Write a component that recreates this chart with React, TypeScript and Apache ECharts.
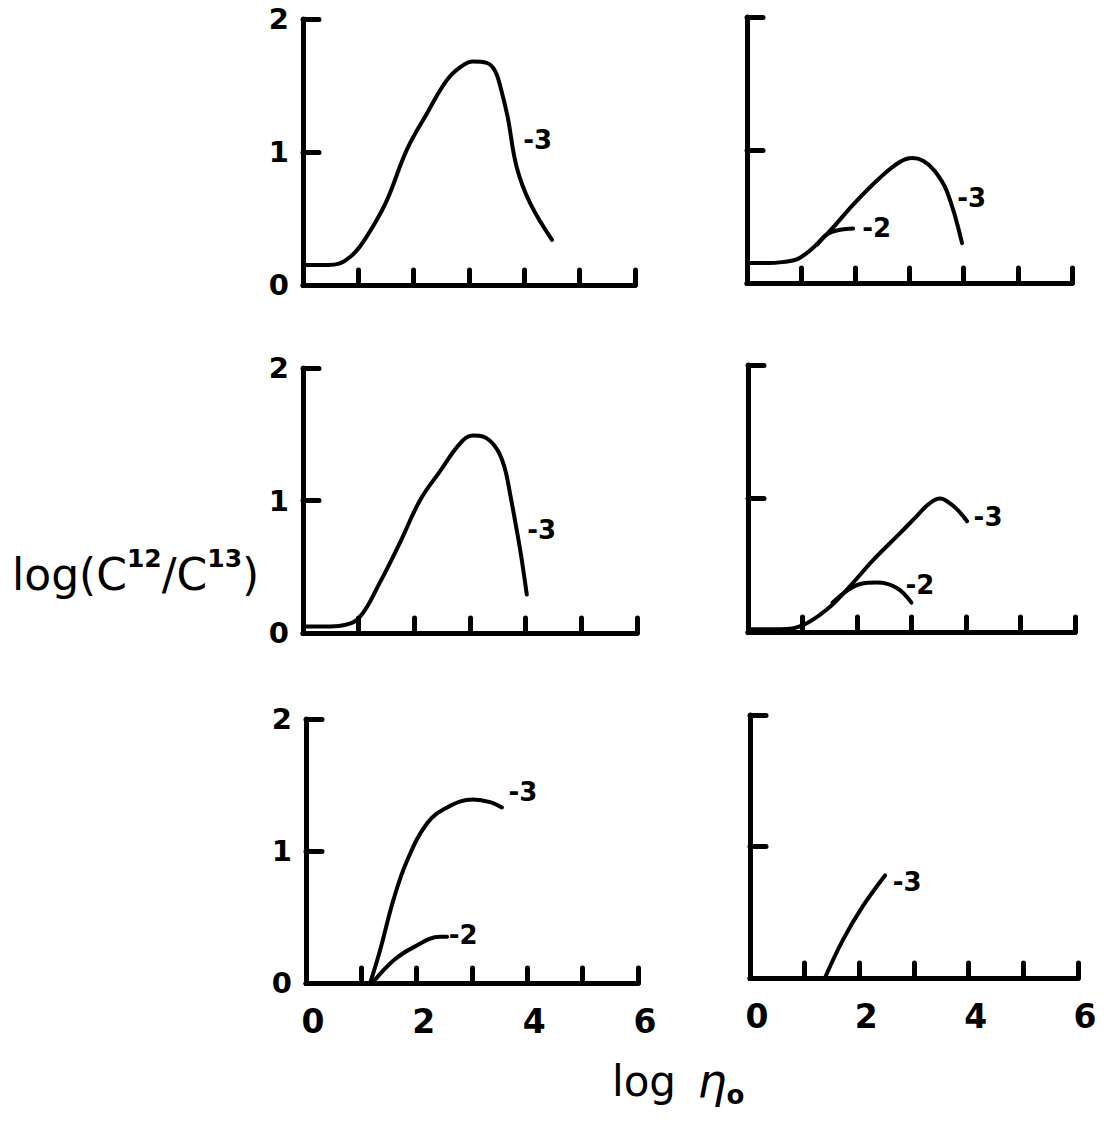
import React, { useEffect, useRef } from 'react';
import * as echarts from 'echarts';

// Axis tick labels
const xLabeledTicks = [0, 2, 4, 6];
const yLabeledTicks = [0, 1, 2];

// Curves: [log eta0, log(C12/C13)]
const topLeftM3 = [[0, 0.15], [0.45, 0.15], [0.65, 0.16], [0.85, 0.21], [1.03, 0.29], [1.25, 0.43], [1.52, 0.64], [1.88, 1.02], [2.24, 1.29], [2.6, 1.54], [2.85, 1.64], [3.07, 1.68], [3.32, 1.67], [3.47, 1.61], [3.58, 1.47], [3.7, 1.26], [3.86, 0.89], [4.1, 0.62], [4.5, 0.34]];
const topRightM3 = [[0, 0.15], [0.4, 0.15], [0.6, 0.155], [0.98, 0.19], [1.48, 0.37], [1.96, 0.59], [2.45, 0.79], [2.82, 0.91], [3.05, 0.94], [3.25, 0.92], [3.45, 0.85], [3.69, 0.69], [3.97, 0.3]];
const topRightM2 = [[1.3, 0.29], [1.49, 0.37], [1.72, 0.4], [1.96, 0.41]];
const midLeftM3 = [[0, 0.05], [0.5, 0.05], [0.75, 0.06], [1.02, 0.12], [1.38, 0.38], [1.74, 0.68], [2.1, 1.0], [2.46, 1.22], [2.82, 1.43], [3.05, 1.49], [3.25, 1.48], [3.48, 1.39], [3.62, 1.25], [3.72, 1.05], [3.9, 0.63], [4.02, 0.29]];
const midRightM3 = [[0, 0.02], [0.6, 0.02], [1.0, 0.05], [1.45, 0.17], [1.82, 0.32], [2.3, 0.54], [2.79, 0.74], [3.1, 0.87], [3.32, 0.96], [3.52, 1.0], [3.72, 0.96], [3.88, 0.9], [4.02, 0.83]];
const midRightM2 = [[1.55, 0.22], [1.82, 0.31], [2.06, 0.36], [2.37, 0.37], [2.73, 0.33], [3.0, 0.22]];
const botLeftM3 = [[1.16, 0], [1.34, 0.25], [1.58, 0.63], [1.83, 0.93], [2.19, 1.21], [2.55, 1.33], [3.02, 1.39], [3.33, 1.37], [3.54, 1.33]];
const botLeftM2 = [[1.2, 0], [1.58, 0.17], [1.94, 0.27], [2.42, 0.35], [2.55, 0.35]];
const botRightM3 = [[1.37, 0], [1.7, 0.29], [2.07, 0.55], [2.47, 0.78]];

// Curve annotations: [x, y] anchor of label text
const topLeftLabels = [{ text: '-3', at: [3.97, 1.09] }];
const topRightLabels = [{ text: '-3', at: [3.87, 0.64] }, { text: '-2', at: [2.12, 0.41] }];
const midLeftLabels = [{ text: '-3', at: [4.02, 0.78] }];
const midRightLabels = [{ text: '-3', at: [4.13, 0.86] }, { text: '-2', at: [2.88, 0.35] }];
const botLeftLabels = [{ text: '-3', at: [3.65, 1.45] }, { text: '-2', at: [2.57, 0.36] }];
const botRightLabels = [{ text: '-3', at: [2.6, 0.73] }];

const FONT = 'DejaVu Sans';

export default function App() {
  const ref = useRef<HTMLDivElement>(null);
  useEffect(() => {
    const chart = echarts.init(ref.current!, null, { renderer: 'svg' });
    const panels = [
      { rect: { left: 303, top: 19, width: 332, height: 266 }, xl: false, yl: true, curves: [topLeftM3], labels: topLeftLabels },
      { rect: { left: 747, top: 17, width: 325, height: 266 }, xl: false, yl: false, curves: [topRightM3, topRightM2], labels: topRightLabels },
      { rect: { left: 303, top: 368, width: 334, height: 265 }, xl: false, yl: true, curves: [midLeftM3], labels: midLeftLabels },
      { rect: { left: 748, top: 365, width: 327, height: 267 }, xl: false, yl: false, curves: [midRightM3, midRightM2], labels: midRightLabels },
      { rect: { left: 306, top: 719, width: 332, height: 264 }, xl: true, yl: true, curves: [botLeftM3, botLeftM2], labels: botLeftLabels },
      { rect: { left: 750, top: 715, width: 328, height: 263 }, xl: true, yl: false, curves: [botRightM3], labels: botRightLabels },
    ];
    const axisLineStyle = { color: '#000', width: 5, cap: 'round' as const };
    const grid: any[] = [];
    const xAxis: any[] = [];
    const yAxis: any[] = [];
    const series: any[] = [];
    panels.forEach((p, i) => {
      grid.push({ ...p.rect, containLabel: false });
      xAxis.push({
        type: 'value', gridIndex: i, min: 0, max: 6, interval: 1,
        axisLine: { show: true, onZero: false, lineStyle: axisLineStyle },
        axisTick: { show: true, inside: true, length: 15, lineStyle: { color: '#000', width: 5, cap: 'round' } },
        splitLine: { show: false },
        axisLabel: {
          show: p.xl, margin: 22, color: '#000', fontFamily: FONT, fontWeight: 'bold', fontSize: 33,
          padding: [0, 0, 0, 14],
          formatter: (v: number) => (xLabeledTicks.includes(v) ? String(v) : ''),
        },
      });
      yAxis.push({
        type: 'value', gridIndex: i, min: 0, max: 2, interval: 1,
        axisLine: { show: true, onZero: false, lineStyle: axisLineStyle },
        axisTick: { show: true, inside: true, length: 16, lineStyle: { color: '#000', width: 5, cap: 'round' } },
        splitLine: { show: false },
        axisLabel: {
          show: p.yl, margin: 14, color: '#000', fontFamily: FONT, fontWeight: 'bold', fontSize: 29,
          formatter: (v: number) => (yLabeledTicks.includes(v) ? String(v) : ''),
        },
      });
      p.curves.forEach((c) => {
        series.push({
          type: 'line', xAxisIndex: i, yAxisIndex: i, data: c, smooth: 0.4,
          showSymbol: false, symbol: 'none', silent: true,
          lineStyle: { color: '#000', width: 4, cap: 'round', join: 'round' },
        });
      });
      series.push({
        type: 'scatter', xAxisIndex: i, yAxisIndex: i, symbolSize: 1, silent: true,
        itemStyle: { opacity: 0 },
        data: p.labels.map((l) => ({ value: l.at, name: l.text })),
        label: {
          show: true, position: 'right', distance: 0, formatter: (d: any) => d.name,
          color: '#000', opacity: 1, textBorderWidth: 0, fontFamily: FONT, fontWeight: 'bold', fontSize: 26,
        },
      });
    });
    chart.setOption({
      animation: false,
      backgroundColor: '#fff',
      grid, xAxis, yAxis, series,
      graphic: [
        {
          type: 'text', left: 12, top: 546,
          style: {
            text: '{n|log(C}{s|12}{n|/C}{s|13}{n|)}',
            fill: '#000',
            rich: {
              n: { fontFamily: FONT, fontSize: 44, lineHeight: 56, fill: '#000', verticalAlign: 'middle' },
              s: { fontFamily: FONT, fontSize: 25, fontWeight: 'bold', fill: '#000', verticalAlign: 'top', lineHeight: 56 },
            },
          },
        },
        {
          type: 'text', left: 612, top: 1058,
          style: {
            text: '{n|log }{e|η}{o|o}',
            fill: '#000',
            rich: {
              n: { fontFamily: FONT, fontSize: 42, lineHeight: 54, fill: '#000' },
              e: { fontFamily: FONT, fontSize: 46, fontStyle: 'italic', lineHeight: 54, fill: '#000', padding: [0, 0, 0, 8] },
              o: { fontFamily: FONT, fontSize: 26, fontWeight: 'bold', lineHeight: 54, fill: '#000', verticalAlign: 'bottom' },
            },
          },
        },
      ],
    });
    return () => chart.dispose();
  }, []);
  return <div ref={ref} style={{ position: 'absolute', left: 0, top: 0, width: 1104, height: 1124, background: '#fff' }} />;
}
